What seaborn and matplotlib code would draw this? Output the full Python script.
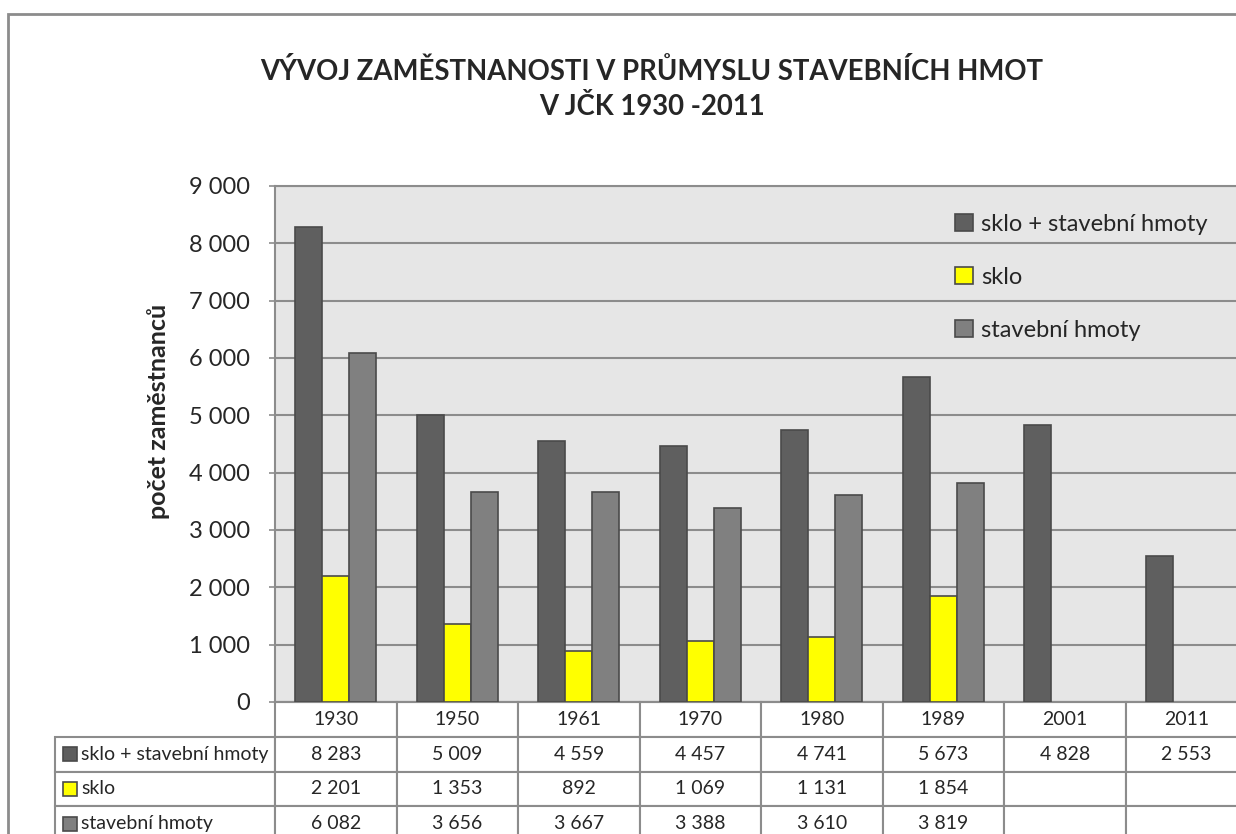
import matplotlib
matplotlib.use("Agg")
import matplotlib.pyplot as plt
import numpy as np
import pandas as pd
import seaborn as sns
from matplotlib.patches import Rectangle
from matplotlib.ticker import FuncFormatter, MultipleLocator

years = ["1930", "1950", "1961", "1970", "1980", "1989", "2001", "2011"]
series = ["sklo + stavební hmoty", "sklo", "stavební hmoty"]
sklo_stavebni = [8283, 5009, 4559, 4457, 4741, 5673, 4828, 2553]
sklo = [2201, 1353, 892, 1069, 1131, 1854, np.nan, np.nan]
stavebni = [6082, 3656, 3667, 3388, 3610, 3819, np.nan, np.nan]
colors = ["#5f5f5f", "#ffff00", "#808080"]

title_1 = "VÝVOJ ZAMĚSTNANOSTI V PRŮMYSLU STAVEBNÍCH HMOT"
title_2 = "V JČK 1930 -2011"
ylabel = "počet zaměstnanců"

sns.set_style("white")
plt.rcParams["font.family"] = ["Lato", "DejaVu Sans"]

values = [sklo_stavebni, sklo, stavebni]
df = pd.DataFrame({
    "rok": years * 3,
    "rada": np.repeat(series, len(years)),
    "pocet": np.concatenate(values),
})

W, H = 1236, 834
fig = plt.figure(figsize=(W / 100, H / 100), dpi=100)
fig.patch.set_facecolor("white")

grid_c = "#8c8c8c"

# plot area in pixels (left, top, right, bottom)
px_l, px_t, px_r, px_b = 275, 186, 1247, 702
ax = fig.add_axes([px_l / W, 1 - px_b / H, (px_r - px_l) / W, (px_b - px_t) / H])
ax.set_facecolor("#e6e6e6")

sns.barplot(data=df, x="rok", y="pocet", hue="rada", hue_order=series,
            order=years, palette=colors, width=0.667, saturation=1,
            errorbar=None, edgecolor="#4a4a4a", linewidth=1.2, ax=ax, zorder=3)

ax.set_xlim(-0.5, len(years) - 0.5)
ax.set_ylim(0, 9000)
ax.yaxis.set_major_locator(MultipleLocator(1000))
ax.yaxis.set_major_formatter(FuncFormatter(lambda v, p: f"{v:,.0f}".replace(",", " ")))
ax.grid(axis="y", color=grid_c, linewidth=1.5, zorder=0)
ax.set_axisbelow(True)
ax.tick_params(axis="y", length=4, width=1.2, color=grid_c, pad=14, labelsize=17,
               direction="out", left=True)
ax.tick_params(axis="x", bottom=False, labelbottom=False)
ax.set_xlabel("")
for s in ax.spines.values():
    s.set_color(grid_c)
    s.set_linewidth(1.5)

ax.set_ylabel(ylabel, fontsize=18, fontweight="bold")
ax.yaxis.set_label_coords((158 - px_l) / (px_r - px_l), (px_b - 411) / (px_b - px_t))
ax.yaxis.label.set_va("center")

# legend
handles, labels = ax.get_legend_handles_labels()
ax.legend(handles, labels, loc="upper left",
          bbox_to_anchor=(955 / W, 1 - 214 / H), bbox_transform=fig.transFigure,
          frameon=False, fontsize=17, labelspacing=1.35, handlelength=0.75,
          handleheight=0.75, handletextpad=0.35, borderpad=0, borderaxespad=0)

# data table under the plot
tab_l, tab_b = 55, 841
ax_w, ax_h = px_r - px_l, px_b - px_t
bx = (tab_l - px_l) / ax_w
bw = (px_r - tab_l) / ax_w
bh = (tab_b - px_b) / ax_h
first_w = (px_l - tab_l) / (px_r - tab_l)
col_w = (1 - first_w) / len(years)

def fmt(v):
    return "" if pd.isna(v) else f"{v:,.0f}".replace(",", " ")

cell_text = [[name] + [fmt(v) for v in vals] for name, vals in zip(series, values)]
table = ax.table(cellText=cell_text, colLabels=[""] + years, cellLoc="center",
                 colWidths=[first_w] + [col_w] * len(years),
                 bbox=[bx, -bh, bw, bh])
table.auto_set_font_size(False)
table.set_fontsize(14)
for (r, c), cell in table.get_celld().items():
    cell.set_edgecolor(grid_c)
    cell.set_linewidth(1.5)
    cell.set_facecolor("white")
    if r == 0 and c == 0:
        cell.visible_edges = ""
    if c == 0 and r > 0:
        cell.get_text().set_ha("left")
        cell._loc = "left"
        cell.PAD = 26 / (px_l - tab_l)

# coloured keys inside the row-label cells
row_h = bh / 4
sq_w, sq_h = 14 / ax_w, 14 / ax_h
for i, col in enumerate(colors):
    yc = -(i + 1.5) * row_h
    ax.add_patch(Rectangle(((63 - px_l) / ax_w, yc - sq_h / 2), sq_w, sq_h,
                           transform=ax.transAxes, facecolor=col,
                           edgecolor="#4a4a4a", linewidth=1.2, clip_on=False, zorder=5))

# title
fig.text(652 / W, 1 - 80 / H, title_1, ha="center", va="baseline",
         fontsize=19.8, fontweight="bold")
fig.text(652 / W, 1 - 115 / H, title_2, ha="center", va="baseline",
         fontsize=19.8, fontweight="bold")

# chart frame
fig.patches.append(Rectangle((8 / W, -0.05), 1.2, (H - 14) / H + 0.05,
                             transform=fig.transFigure, fill=False,
                             edgecolor=grid_c, linewidth=2))

fig.savefig("out.png", dpi=100)
